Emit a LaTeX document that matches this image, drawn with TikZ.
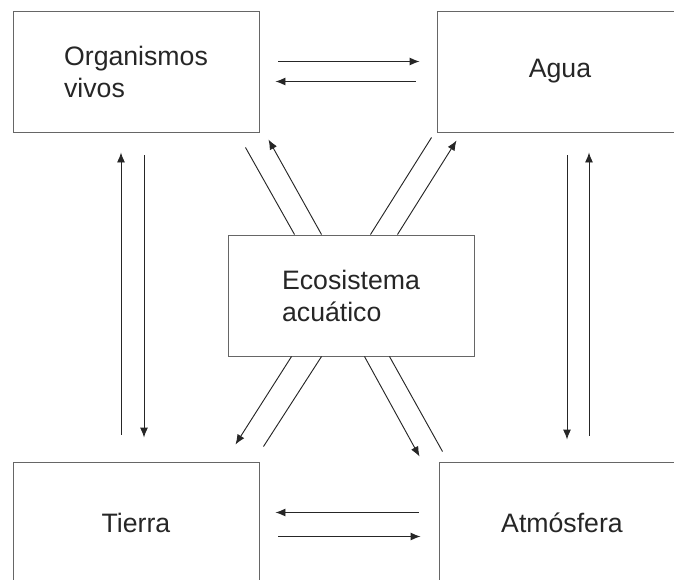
\documentclass[tikz,border=0pt]{standalone}
\usepackage{fontspec}
\setmainfont{Liberation Sans}
\usetikzlibrary{arrows.meta,calc}

\tikzset{
  caja/.style={draw=black!60, line width=0.7pt, minimum width=184.5pt, minimum height=90.75pt,
    inner sep=0pt, text=black!85, font=\fontsize{20}{24}\selectfont},
  flecha/.style={draw=black!85, line width=0.7pt, -{Latex[length=7.5pt,width=6pt]}},
  linea/.style={draw=black!85, line width=0.7pt}
}

\begin{document}
\begin{tikzpicture}[x=0.75pt,y=0.75pt,yscale=-1,xscale=1]
    \useasboundingbox (0,0) rectangle (674,579);
    \clip (0,0) rectangle (674,579);

    % Boxes
    \node [caja, align=left] (org) at (136,71.5) {Organismos\\vivos};
    \node [caja] (agua) at (560,71.5) {Agua};
    \node [caja, align=left] (eco) at (351,295.5) {Ecosistema\\acuático};
    \node [caja] (tierra) at (136,522.5) {Tierra};
    \node [caja] (atm) at (562,522.5) {Atmósfera};

    % Organismos vivos <-> Agua
    \draw [flecha] ($(org.east)+(19,-10)$) -- ($(agua.west)+(-17,-10)$);
    \draw [flecha] ($(agua.west)+(-21,10)$) -- ($(org.east)+(16,10)$);

    % Tierra <-> Atmosfera
    \draw [flecha] ($(atm.west)+(-20,-10)$) -- ($(tierra.east)+(16,-10)$);
    \draw [flecha] ($(tierra.east)+(19,14)$) -- ($(atm.west)+(-18,14)$);

    % Organismos vivos <-> Tierra
    \draw [flecha] ($(tierra.north)+(-15,-27)$) -- ($(org.south)+(-15,20)$);
    \draw [flecha] ($(org.south)+(8,23)$) -- ($(tierra.north)+(8,-24)$);

    % Agua <-> Atmosfera
    \draw [flecha] ($(agua.south)+(7,23)$) -- ($(atm.north)+(5,-22)$);
    \draw [flecha] ($(atm.north)+(27,-26)$) -- ($(agua.south)+(29,20)$);

    % Ecosistema diagonals
    \draw [linea] ($(eco.north west)+(67,0)$) -- ($(org.south east)+(-14,15)$);
    \draw [flecha] ($(eco.north west)+(94,0)$) -- ($(org.south east)+(9,7)$);
    \draw [linea] ($(eco.north east)+(-104,0)$) -- ($(agua.south west)+(-5,5)$);
    \draw [flecha] ($(eco.north east)+(-77,0)$) -- ($(agua.south west)+(20,8)$);
    \draw [flecha] ($(eco.south west)+(64,0)$) -- ($(tierra.north east)+(-24,-17)$);
    \draw [linea] ($(eco.south west)+(94,0)$) -- ($(tierra.north east)+(4,-15)$);
    \draw [flecha] ($(eco.south east)+(-110,0)$) -- ($(atm.north west)+(-19,-5)$);
    \draw [linea] ($(eco.south east)+(-85,0)$) -- ($(atm.north west)+(4,-10)$);

\end{tikzpicture}
\end{document}
